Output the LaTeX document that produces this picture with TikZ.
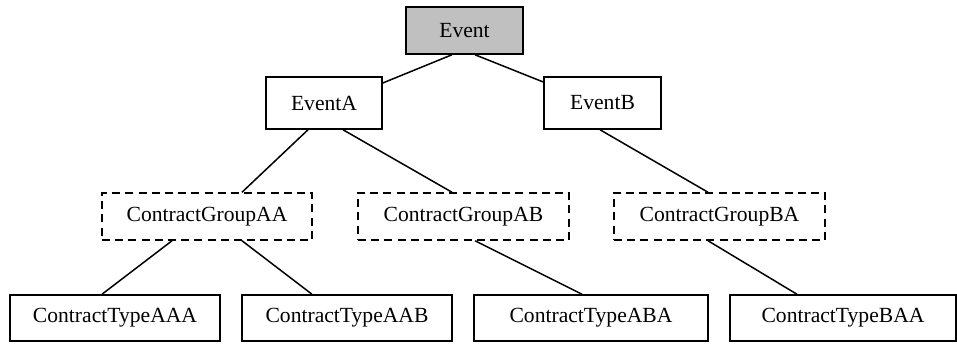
\documentclass[tikz,border=0pt]{standalone}
\usepackage{fontspec}
\setmainfont{Liberation Serif}
\usetikzlibrary{calc}
\tikzset{
	box/.style={draw,line width=0.75pt,minimum height=23.5pt,inner sep=0pt,font=\fontsize{10.8}{12}\selectfont},
	group/.style={box,dash pattern=on 4pt off 2.6pt}
}
\begin{document}
\begin{tikzpicture}[x=0.5pt,y=-0.5pt]
	\useasboundingbox (0,0) rectangle (957,343);
	\node[box,fill={rgb,255:red,192;green,192;blue,192},minimum width=58.5pt] (ev) at (464.5,30.5) {Event};
	\node[box,minimum width=58pt,minimum height=26pt] (evA) at (324,103) {EventA};
	\node[box,minimum width=58.5pt,minimum height=26pt] (evB) at (602.5,103) {EventB};
	\node[group,minimum width=105pt] (gAA) at (207,216.5) {ContractGroupAA};
	\node[group,minimum width=105.5pt] (gAB) at (463.5,216.5) {ContractGroupAB};
	\node[group,minimum width=105.5pt] (gBA) at (719.5,216.5) {ContractGroupBA};
	\node[box,minimum width=105pt,minimum height=23pt] (tAAA) at (115,318) {ContractTypeAAA};
	\node[box,minimum width=105pt,minimum height=23pt] (tAAB) at (347,318) {ContractTypeAAB};
	\node[box,minimum width=117pt,minimum height=23pt] (tABA) at (591,318) {ContractTypeABA};
	\node[box,minimum width=113pt,minimum height=23pt] (tBAA) at (843,318) {ContractTypeBAA};
	\draw[line width=0.75pt] ($(ev.south)+(-12.5,0)$) -- ($(evA.east)+(0,-20)$);
	\draw[line width=0.75pt] ($(ev.south)+(10.5,0)$) -- ($(evB.west)+(0,-21)$);
	\draw[line width=0.75pt] ($(evA.south)+(-16,0)$) -- ($(gAA.north)+(35,0)$);
	\draw[line width=0.75pt] ($(evA.south)+(19,0)$) -- ($(gAB.north)+(-11.5,0)$);
	\draw[line width=0.75pt] ($(evB.south)+(-2.5,0)$) -- ($(gBA.north)+(-11.5,0)$);
	\draw[line width=0.75pt] ($(gAA.south)+(-35,0)$) -- ($(tAAA.north)+(-13,0)$);
	\draw[line width=0.75pt] ($(gAA.south)+(35,0)$) -- ($(tAAB.north)+(-35,0)$);
	\draw[line width=0.75pt] ($(gAB.south)+(11.5,0)$) -- ($(tABA.north)+(-9,0)$);
	\draw[line width=0.75pt] ($(gBA.south)+(-11.5,0)$) -- ($(tBAA.north)+(-46,0)$);
\end{tikzpicture}
\end{document}
